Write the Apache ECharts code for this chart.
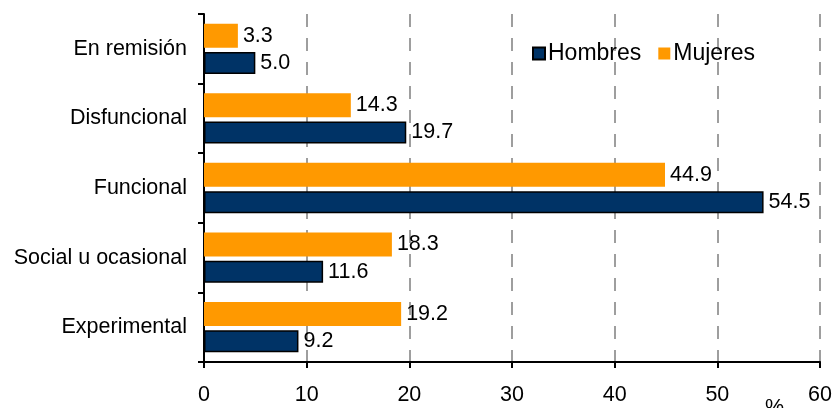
<!DOCTYPE html>
<html>
<head>
<meta charset="utf-8">
<script src="https://cdn.jsdelivr.net/npm/echarts@6/dist/echarts.min.js"></script>
<style>
  html, body { margin: 0; padding: 0; background: #fff; }
  #chart { width: 835px; height: 408px; }
</style>
</head>
<body>
<div id="chart"></div>
<script>
// categories top to bottom
const categories = ['En remisión', 'Disfuncional', 'Funcional', 'Social u ocasional', 'Experimental'];
const hombres = [5.0, 19.7, 54.5, 11.6, 9.2];
const mujeres = [3.3, 14.3, 44.9, 18.3, 19.2];
const xTicks = [0, 10, 20, 30, 40, 50, 60];

const font = 'Liberation Sans, Arial, sans-serif';
const fs = 21.5;

const chart = echarts.init(document.getElementById('chart'));

const label = {
    show: true,
    position: 'right',
    distance: 5,
    color: '#000',
    fontFamily: font,
    fontSize: fs,
    formatter: p => p.value.toFixed(1)
};

chart.setOption({
    animation: false,
    backgroundColor: '#fff',
    grid: { left: 204, right: 14, top: 14, bottom: 46 },
    legend: {
        data: ['Hombres', 'Mujeres'],
        left: 527,
        top: 37,
        itemWidth: 12,
        itemHeight: 12,
        itemGap: 17,
        icon: 'rect',
        textStyle: { fontFamily: font, fontSize: 23, color: '#000', padding: [0, 0, 0, -2] }
    },
    xAxis: {
        type: 'value',
        min: 0,
        max: 60,
        interval: 10,
        axisLine: { show: true, lineStyle: { color: '#000', width: 2 } },
        axisTick: { show: true, length: 6, lineStyle: { color: '#000', width: 2 } },
        axisLabel: {
            margin: 22,
            color: '#000',
            fontFamily: font,
            fontSize: fs,
            formatter: v => xTicks.includes(v) ? String(v) : ''
        },
        splitLine: { show: true, lineStyle: { color: '#9e9e9e', width: 2, type: [13, 11] } }
    },
    yAxis: {
        type: 'category',
        inverse: true,
        data: categories,
        axisLine: { show: true, lineStyle: { color: '#000', width: 2 } },
        axisTick: { show: true, length: 6, lineStyle: { color: '#000', width: 2 } },
        axisLabel: { margin: 17, color: '#000', fontFamily: font, fontSize: fs }
    },
    series: [
        {
            name: 'Mujeres',
            type: 'bar',
            data: mujeres,
            barWidth: 24,
            barGap: '18%',
            itemStyle: { color: '#FF9900' },
            label: label
        },
        {
            name: 'Hombres',
            type: 'bar',
            data: hombres,
            barWidth: 22,
            barGap: '18%',
            itemStyle: { color: '#003366', borderColor: '#000', borderWidth: 1.5 },
            label: label
        }
    ],
    graphic: [
        {
            type: 'text',
            left: 765,
            top: 397,
            style: { text: '%', font: fs + 'px ' + font, fill: '#000' }
        }
    ]
});
</script>
</body>
</html>
